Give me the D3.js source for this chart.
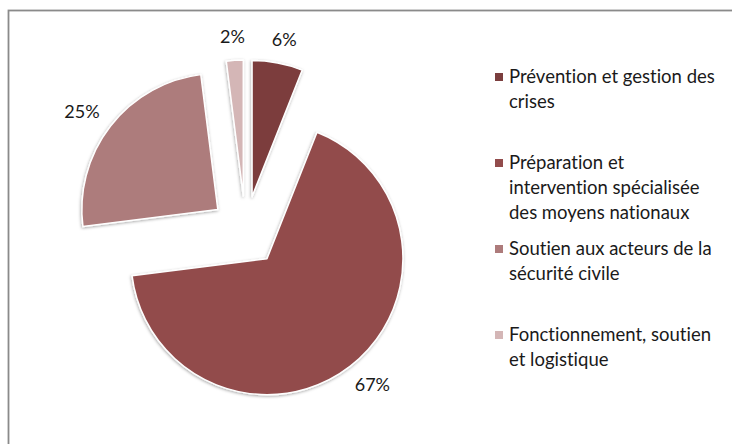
<!DOCTYPE html>
<html>
<head>
<meta charset="utf-8">
<script src="https://cdn.jsdelivr.net/npm/d3@7"></script>
<style>
  html, body { margin: 0; padding: 0; background: #fff; }
  svg { display: block; }
  text { font-variant-ligatures: none; font-feature-settings: "liga" 0; }
</style>
</head>
<body>
<svg id="chart" width="732" height="444"></svg>
<script>
// données du graphique
const categories = [
  "Prévention et gestion des crises",
  "Préparation et intervention spécialisée des moyens nationaux",
  "Soutien aux acteurs de la sécurité civile",
  "Fonctionnement, soutien et logistique"
];
const values = [6, 67, 25, 2];
const legendLines = [
  ["Prévention et gestion des", "crises"],
  ["Préparation et", "intervention spécialisée", "des moyens nationaux"],
  ["Soutien aux acteurs de la", "sécurité civile"],
  ["Fonctionnement, soutien", "et logistique"]
];
const colors = ["#7b3e3e", "#924c4c", "#ad7b7b", "#d4b6b6"];

const W = 732, H = 444;
const FONT = "Lato, 'Open Sans', sans-serif";
const svg = d3.select("#chart");

// cadre gris (coupé à droite et en bas)
svg.append("rect")
  .attr("x", 8.5).attr("y", 10.5)
  .attr("width", W + 10).attr("height", H + 10)
  .attr("fill", "none")
  .attr("stroke", "#8a8a8a")
  .attr("stroke-width", 1.8);

// ombre légère autour des parts
const defs = svg.append("defs");
const f = defs.append("filter").attr("id", "shadow")
  .attr("x", "-20%").attr("y", "-20%").attr("width", "140%").attr("height", "140%");
f.append("feDropShadow")
  .attr("dx", -0.5).attr("dy", 1)
  .attr("stdDeviation", 1.6)
  .attr("flood-color", "#000")
  .attr("flood-opacity", 0.35);

const cx = 245.5, cy = 231, R = 136, explode = 35;

const pie = d3.pie().sort(null).value(d => d);
const arcs = pie(values);
const arc = d3.arc().innerRadius(0).outerRadius(R);
const labelArc = d3.arc().innerRadius(160).outerRadius(160);

const mid = d => (d.startAngle + d.endAngle) / 2;
const off = d => [Math.sin(mid(d)) * explode, -Math.cos(mid(d)) * explode];

const g = svg.append("g").attr("transform", `translate(${cx},${cy})`);

g.selectAll("path")
  .data(arcs)
  .enter().append("path")
  .attr("transform", d => `translate(${off(d)})`)
  .attr("d", arc)
  .attr("fill", (d, i) => colors[i])
  .attr("stroke", "#fff")
  .attr("stroke-width", 1.5)
  .attr("stroke-linejoin", "round")
  .attr("filter", "url(#shadow)");

g.selectAll("text.pct")
  .data(arcs)
  .enter().append("text")
  .attr("class", "pct")
  .attr("x", d => labelArc.centroid(d)[0] + off(d)[0] + Math.sin(mid(d)) * 12)
  .attr("y", d => labelArc.centroid(d)[1] + off(d)[1])
  .attr("dy", "0.35em")
  .attr("text-anchor", "middle")
  .attr("fill", "#1a1a1a")
  .style("font-family", FONT)
  .style("font-size", "18px")
  .text(d => d.data + "%");

// légende
const lg = svg.append("g");
const item = lg.selectAll("g")
  .data(legendLines)
  .enter().append("g")
  .attr("transform", (d, i) => `translate(495,${77 + i * 86})`);

item.append("rect")
  .attr("x", 0).attr("y", -4)
  .attr("width", 8).attr("height", 8)
  .attr("fill", (d, i) => colors[i]);

item.append("text")
  .attr("fill", "#1a1a1a")
  .style("font-family", FONT)
  .style("font-size", "18.5px")
  .selectAll("tspan")
  .data(d => d)
  .enter().append("tspan")
  .attr("x", 14)
  .attr("y", (d, j) => j * 25)
  .attr("dy", "0.35em")
  .text(d => d);
</script>
</body>
</html>
